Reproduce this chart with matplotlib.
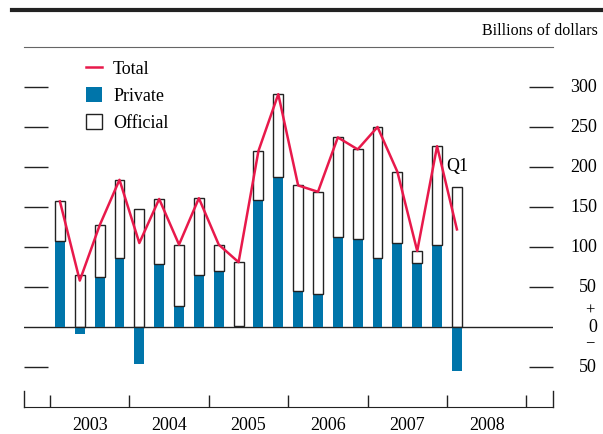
import matplotlib
matplotlib.use("Agg")
import matplotlib.pyplot as plt
import numpy as np
from matplotlib.lines import Line2D
from matplotlib.patches import Patch
from matplotlib.transforms import blended_transform_factory

# quarterly data, 2003Q1 .. 2008Q1 (billions of dollars)
years = ["2003", "2004", "2005", "2006", "2007", "2008"]
private = [107, -9, 63, 86, -46, 79, 26, 65, 70, 1, 159, 188, 45, 41, 112, 110, 86, 105, 80, 103, -55]
official = [50, 65, 64, 98, 147, 81, 77, 96, 33, 80, 61, 103, 132, 128, 125, 112, 164, 89, 15, 123, 175]
total = [157, 58, 127, 184, 105, 160, 103, 161, 103, 81, 220, 291, 177, 169, 237, 222, 250, 194, 95, 226, 122]
ytick_vals = [300, 250, 200, 150, 100, 50, 0, -50]
ytick_text = ["300", "250", "200", "150", "100", "50", "0", "50"]

BLUE = "#0075aa"
RED = "#e8194b"
W, H = 603, 434

plt.rcParams["font.family"] = ["Liberation Serif", "DejaVu Serif"]
plt.rcParams["font.size"] = 13

fig = plt.figure(figsize=(W / 100, H / 100), dpi=100)
ax = fig.add_axes([24 / W, (H - 407) / H, 529 / W, 360 / H])

x = np.arange(len(private))
priv = np.array(private)
base = np.maximum(priv, 0)

ax.bar(x, priv, width=0.5, color=BLUE, linewidth=0, zorder=2)
ax.bar(x, official, bottom=base, width=0.5, facecolor="none",
       edgecolor="#222222", linewidth=1, zorder=3)
ax.plot(x, total, color=RED, linewidth=1.8, zorder=4)
ax.axhline(0, color="#222222", linewidth=1, zorder=1)

ax.set_xlim(-1.81, 24.84)
ax.set_ylim(-100, 350)

for s in ["left", "right"]:
    ax.spines[s].set_visible(False)
ax.spines["top"].set_color("#666666")
ax.spines["bottom"].set_color("#222222")

# year boundaries + centred year labels
bounds = np.arange(len(years) + 1) * 4 - 0.5
ax.set_xticks(bounds)
ax.set_xticks(bounds[:-1] + 2, minor=True)
ax.set_xticklabels([])
ax.set_xticklabels(years, minor=True)
ax.tick_params(axis="x", which="major", direction="in", length=9, width=1, color="#222222")
ax.tick_params(axis="x", which="minor", length=0, pad=7)

# end marks of the time axis
bt = blended_transform_factory(ax.transAxes, ax.transData)
for xe in [0, 1]:
    ax.add_line(Line2D([xe, xe], [-100, -80], transform=bt, color="#222222",
                       linewidth=1, clip_on=False))

# y ticks on both sides, labels on the right
ax.set_yticks([v for v in ytick_vals if v != 0])
ax.tick_params(axis="y", which="major", direction="in", length=17.5, width=1,
               color="#222222", left=True, right=True, labelleft=False, labelright=False)
lx = 1 + (597 - 553) / 529
for v, t in zip(ytick_vals, ytick_text):
    ax.text(lx, v, t, transform=bt, ha="right", va="center", clip_on=False)
ax.text(lx - 0.004, 21, "+", transform=bt, ha="right", va="center", fontsize=12)
ax.text(lx - 0.004, -20, "\u2212", transform=bt, ha="right", va="center", fontsize=12)

ax.text(20, 200, "Q1", ha="center", va="center")

handles = [Line2D([], [], color=RED, linewidth=1.8),
           Patch(facecolor=BLUE, edgecolor="none"),
           Patch(facecolor="white", edgecolor="#222222", linewidth=1)]
ax.legend(handles, ["Total", "Private", "Official"], loc="upper left",
          bbox_to_anchor=(62 / 529, 1 - 13 / 360), frameon=False,
          handlelength=0.9, handleheight=0.9, handletextpad=0.6,
          labelspacing=0.52, borderaxespad=0, borderpad=0)

# top rule and units note
fig.add_artist(Line2D([12 / W, 1], [1 - 10 / H, 1 - 10 / H], color="#222222", linewidth=3))
fig.text(598 / W, 1 - 31 / H, "Billions of dollars", ha="right", va="center", fontsize=11.5)

fig.savefig("out.png", dpi=100)
